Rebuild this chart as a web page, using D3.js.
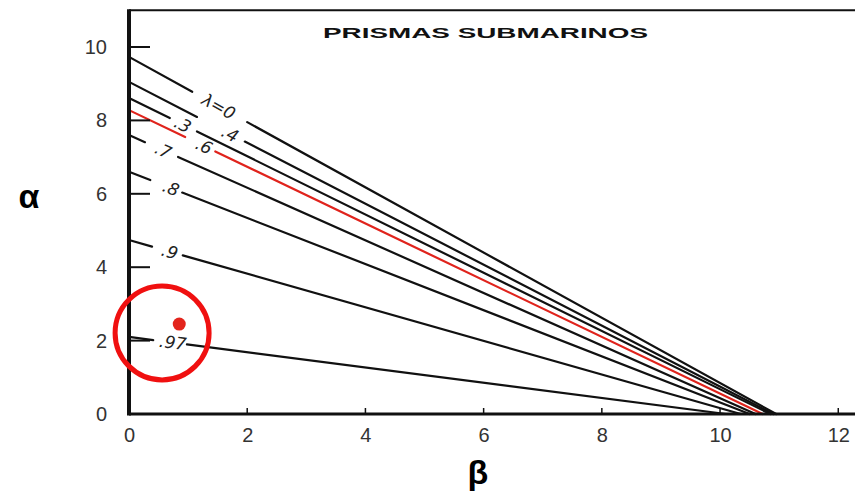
<!DOCTYPE html>
<html>
<head>
<meta charset="utf-8">
<script src="https://cdn.jsdelivr.net/npm/d3@7"></script>
<style>
  html, body { margin: 0; padding: 0; background: #fff; }
  svg { display: block; }
</style>
</head>
<body>
<svg id="chart" width="855" height="495"></svg>
<script>
// Curves of constant lambda: straight lines from (0, alpha0) to (beta0, 0)
const lambdaLabels = ["λ=0", ".4", ".3", ".6", ".7", ".8", ".9", ".97"];
const alphaAtZero  = [9.73, 9.05, 8.61, 8.28, 7.6, 6.6, 4.74, 2.1];
const betaAtZero   = [10.95, 10.9, 10.85, 10.72, 10.6, 10.5, 10.35, 10.1];
const lineColors   = ["#111", "#111", "#111", "#e0231c", "#111", "#111", "#111", "#111"];
// Where each label interrupts its line (beta units)
const gapStart     = [1.07, 1.15, 0.69, 0.95, 0.27, 0.36, 0.39, 0.41];
const gapEnd       = [2.00, 1.96, 1.15, 1.46, 0.83, 0.90, 0.91, 0.98];
const labelAt      = [1.52, 1.71, 0.91, 1.27, 0.58, 0.71, 0.69, 0.74];

const xTicks = [0, 2, 4, 6, 8, 10, 12];
const yTicks = [0, 2, 4, 6, 8, 10];

// Design point and its highlight ring
const pointBeta = [0.85];
const pointAlpha = [2.45];
const ringBeta = [0.56];
const ringAlpha = [2.21];

const svg = d3.select("#chart");
const x = d3.scaleLinear().domain([0, 12.3]).range([129, 856]);
const y = d3.scaleLinear().domain([0, 11]).range([414, 10.3]);

// Title
svg.append("text")
  .attr("x", 323).attr("y", 37.5)
  .attr("textLength", 325).attr("lengthAdjust", "spacingAndGlyphs")
  .attr("font-family", "Liberation Sans, Arial, sans-serif")
  .attr("font-weight", "bold").attr("font-size", 15.5)
  .attr("fill", "#111")
  .text("PRISMAS SUBMARINOS");

// Lines
lambdaLabels.forEach((lab, i) => {
  const a0 = alphaAtZero[i], b0 = betaAtZero[i];
  const f = b => a0 * (1 - b / b0);
  const segs = [[0, gapStart[i]], [gapEnd[i], b0]];
  segs.forEach(([b1, b2]) => {
    svg.append("line")
      .attr("x1", x(b1)).attr("y1", y(f(b1)))
      .attr("x2", x(b2)).attr("y2", y(f(b2)))
      .attr("stroke", lineColors[i]).attr("stroke-width", 2.2)
      .attr("stroke-linecap", "round");
  });
  const ang = Math.atan2(y(f(b0)) - y(a0), x(b0) - x(0)) * 180 / Math.PI;
  const lx = x(labelAt[i]), ly = y(f(labelAt[i]));
  svg.append("text")
    .attr("transform", `translate(${lx},${ly}) rotate(${ang})`)
    .attr("text-anchor", "middle").attr("dominant-baseline", "central")
    .attr("font-family", "DejaVu Sans, sans-serif")
    .attr("font-style", "italic").attr("font-size", 17)
    .attr("fill", "#222")
    .text(lab);
});

// Axes
const xAxis = d3.axisBottom(x).tickValues(xTicks).tickSize(0).tickPadding(14)
  .tickFormat(d3.format("d"));
const gx = svg.append("g").attr("transform", `translate(0,${y(0)})`).call(xAxis);
gx.select(".domain").remove();
gx.selectAll("text")
  .attr("font-family", "Liberation Sans, Arial, sans-serif")
  .attr("font-size", 20).attr("fill", "#333");

const yAxis = d3.axisLeft(y).tickValues(yTicks).tickSize(0).tickPadding(22)
  .tickFormat(d3.format("d"));
const gy = svg.append("g").attr("transform", `translate(${x(0)},0)`).call(yAxis);
gy.select(".domain").remove();
gy.selectAll("text")
  .attr("font-family", "Liberation Sans, Arial, sans-serif")
  .attr("font-size", 20).attr("fill", "#333");

// Inner tick marks
svg.append("g").selectAll("line").data(yTicks.filter(d => d > 0)).join("line")
  .attr("x1", x(0)).attr("x2", x(0) + 21)
  .attr("y1", d => y(d)).attr("y2", d => y(d))
  .attr("stroke", "#111").attr("stroke-width", 2);
svg.append("g").selectAll("line").data(xTicks.filter(d => d > 0)).join("line")
  .attr("x1", d => x(d)).attr("x2", d => x(d))
  .attr("y1", y(0)).attr("y2", y(0) - 6)
  .attr("stroke", "#111").attr("stroke-width", 1.5);

// Frame: top border, bottom axis, left axis
svg.append("line").attr("x1", x(0)).attr("x2", 855).attr("y1", y(11)).attr("y2", y(11))
  .attr("stroke", "#111").attr("stroke-width", 2);
svg.append("line").attr("x1", x(0)).attr("x2", 855).attr("y1", y(0)).attr("y2", y(0))
  .attr("stroke", "#111").attr("stroke-width", 3);
svg.append("line").attr("x1", x(0)).attr("x2", x(0)).attr("y1", y(11) - 1).attr("y2", y(0) + 1.5)
  .attr("stroke", "#111").attr("stroke-width", 4);

// Axis titles
svg.append("text").attr("x", 29).attr("y", 196)
  .attr("text-anchor", "middle").attr("dominant-baseline", "central")
  .attr("font-family", "Liberation Sans, Arial, sans-serif")
  .attr("font-weight", "bold").attr("font-size", 34).attr("fill", "#000")
  .text("α");
svg.append("text").attr("x", 478).attr("y", 484)
  .attr("text-anchor", "middle")
  .attr("font-family", "Liberation Sans, Arial, sans-serif")
  .attr("font-weight", "bold").attr("font-size", 34).attr("fill", "#000")
  .text("β");

// Design point and ring
svg.append("g").selectAll("circle").data(pointBeta).join("circle")
  .attr("cx", (d, i) => x(d)).attr("cy", (d, i) => y(pointAlpha[i]))
  .attr("r", 6.5).attr("fill", "#e3241c");
svg.append("g").selectAll("circle").data(ringBeta).join("circle")
  .attr("cx", (d, i) => x(d)).attr("cy", (d, i) => y(ringAlpha[i]))
  .attr("r", 47).attr("fill", "none").attr("stroke", "#f01010").attr("stroke-width", 5);
</script>
</body>
</html>
